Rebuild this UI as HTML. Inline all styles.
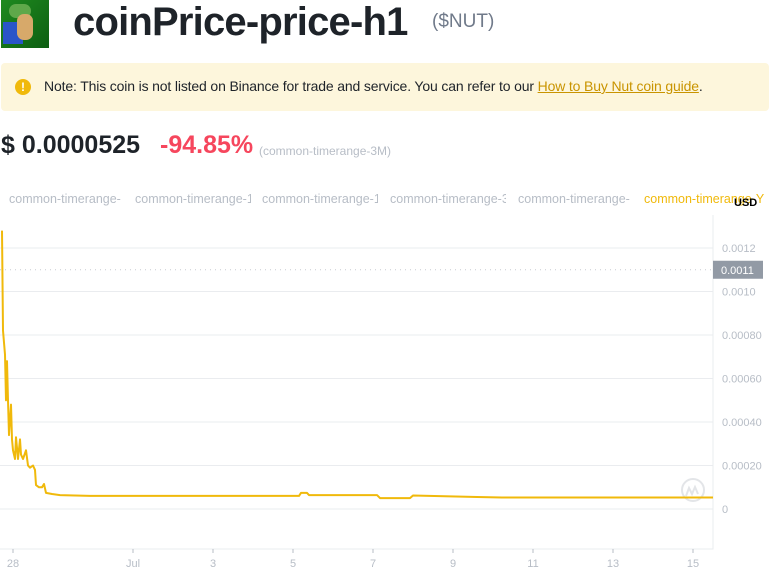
<!DOCTYPE html>
<html><head><meta charset="utf-8"><style>
body{margin:0;width:783px;height:575px;background:#fff;font-family:"Liberation Sans",sans-serif;overflow:hidden;position:relative}
.abs{position:absolute}
</style></head><body>
<div class="abs" style="left:1px;top:0;width:48px;height:48px;background:linear-gradient(135deg,#1f8a1f,#0d5e12);">
 <div style="position:absolute;left:8px;top:4px;width:22px;height:14px;background:#5fa84a;border-radius:8px"></div>
 <div style="position:absolute;left:2px;top:22px;width:20px;height:22px;background:#2a55c8"></div>
 <div style="position:absolute;left:16px;top:14px;width:16px;height:26px;background:#d7a96a;border-radius:7px"></div>
</div>
<div class="abs" style="left:73px;top:0px;font-size:40px;font-weight:bold;color:#1e2329;letter-spacing:-0.8px">coinPrice-price-h1</div>
<div class="abs" style="left:432px;top:11px;font-size:19px;color:#707a8a">($NUT)</div>
<div class="abs" style="left:1px;top:63px;width:768px;height:48px;background:#fdf6dc;border-radius:4px">
 <div class="abs" style="left:14px;top:16px;width:16px;height:16px;border-radius:50%;background:#f0b90b;color:#fff;font-size:12px;font-weight:bold;text-align:center;line-height:16px">!</div>
 <div class="abs" style="left:43px;top:15px;font-size:14px;letter-spacing:-0.15px;color:#1e2329;white-space:nowrap">Note: This coin is not listed on Binance for trade and service. You can refer to our <span style="color:#c99400;text-decoration:underline">How to Buy Nut coin guide</span>.</div>
</div>
<div class="abs" style="left:1px;top:131px;font-size:25px;font-weight:bold;color:#1e2329">$ 0.0000525</div>
<div class="abs" style="left:160px;top:131px;font-size:25px;font-weight:bold;color:#f6465d">-94.85%</div>
<div class="abs" style="left:259px;top:144px;font-size:12px;color:#b7bdc6">(common-timerange-3M)</div>
<div class="abs" style="left:9px;top:192px;font-size:12.5px;color:#b7bdc6;white-space:nowrap;width:756px;overflow:hidden;height:16px">
 <span class="abs" style="left:0;width:116px;overflow:hidden">common-timerange-</span>
 <span class="abs" style="left:126px;width:116px;overflow:hidden">common-timerange-1</span>
 <span class="abs" style="left:253px;width:116px;overflow:hidden">common-timerange-1</span>
 <span class="abs" style="left:381px;width:116px;overflow:hidden">common-timerange-3</span>
 <span class="abs" style="left:509px;width:116px;overflow:hidden">common-timerange-</span>
 <span class="abs" style="left:635px;color:#f0b90b">common-timerange-Y</span>
</div>
<div class="abs" style="left:734px;top:197px;font-size:11px;color:#000;font-weight:bold">USD</div>
<svg class="abs" style="left:0;top:0" width="783" height="575">
<g id="grid"></g><g id="axes"></g><path id="line" fill="none" stroke="#f0b90b" stroke-width="2" stroke-linejoin="round"/>
</svg>
<script>
const yTicks=[0,0.0002,0.0004,0.0006,0.0008,0.0010,0.0012];
const yTickLabels=["0","0.00020","0.00040","0.00060","0.00080","0.0010","0.0012"];
const xTicks=[0,3,5,7,9,11,13,15,17];
const xTickLabels=["28","Jul","3","5","7","9","11","13","15"];
const days=[-0.275,-0.25,-0.2,-0.175,-0.15,-0.125,-0.1,-0.05,-0.025,0,0.05,0.075,0.125,0.175,0.2,0.25,0.325,0.375,0.425,0.5,0.55,0.575,0.65,0.725,0.775,0.825,0.975,1.175,1.925,2.675,4.675,7.15,7.2,7.35,7.4,9.1,9.175,9.925,10.0,11.6,12.225,17.5];
const prices=[0.00128,0.00082,0.00071,0.00050,0.00068,0.00050,0.00034,0.00048,0.00032,0.00027,0.00023,0.00033,0.00023,0.00032,0.00025,0.00023,0.00027,0.00020,0.00019,0.00020,0.00018,0.00011,0.00010,0.00010,0.000115,0.000074,0.000069,0.000064,0.00006,0.00006,0.00006,0.00006,0.000074,0.000074,0.000064,0.000064,0.00005,0.00005,0.000062,0.000055,0.000053,0.000053];
const crossValue=0.0011;
const X=d=>13+d*40, Y=v=>509-v/0.0002*43.5;
const ns="http://www.w3.org/2000/svg";
const grid=document.getElementById('grid'), axes=document.getElementById('axes');
function mk(tag,attrs,parent,text){const e=document.createElementNS(ns,tag);for(const k in attrs)e.setAttribute(k,attrs[k]);if(text!=null)e.textContent=text;parent.appendChild(e);return e;}
yTicks.forEach((v,i)=>{
 const l=mk('line',{x1:0,x2:713,y1:Y(v),y2:Y(v),stroke:'#eaecef'},grid);
 
 
 const t=mk('text',{x:722,y:Y(v)+4,'font-size':11,fill:'#b7bdc6','font-family':'Liberation Sans'},axes,yTickLabels[i]);
 
 
});
const ax=mk('path',{d:'M713 215V549H0',fill:'none',stroke:'#eaecef'},axes);


xTicks.forEach((d,i)=>{
 const x=X(d);
 const tk=mk('line',{x1:x,x2:x,y1:549,y2:553,stroke:'#b7bdc6'},axes);
 
 
 const t=mk('text',{x:x,y:567,'font-size':11,fill:'#b7bdc6','text-anchor':'middle','font-family':'Liberation Sans'},axes,xTickLabels[i]);
 
 
});
const cy=Y(crossValue);
const cl=mk('line',{x1:0,x2:713,y1:cy,y2:cy,stroke:'#c8ccd2','stroke-dasharray':'1 4'},axes);


const cb=mk('rect',{x:713,y:cy-9,width:50,height:18,fill:'#929aa5'},axes);


const ct=mk('text',{x:721,y:cy+4,'font-size':11,fill:'#fff','font-family':'Liberation Sans'},axes,crossValue.toFixed(4));


const wm=mk('g',{},axes);


mk('circle',{cx:693,cy:490,r:11,fill:'none',stroke:'#e3e5e8','stroke-width':2},wm);
mk('path',{d:'M686 496l3-8 3 6 3-7 3 7',fill:'none',stroke:'#e3e5e8','stroke-width':2},wm);
const line=document.getElementById('line');
line.setAttribute('d',days.map((d,i)=>(i?'L':'M')+X(d).toFixed(1)+' '+Y(prices[i]).toFixed(1)).join(''));


</script>
</body></html>
